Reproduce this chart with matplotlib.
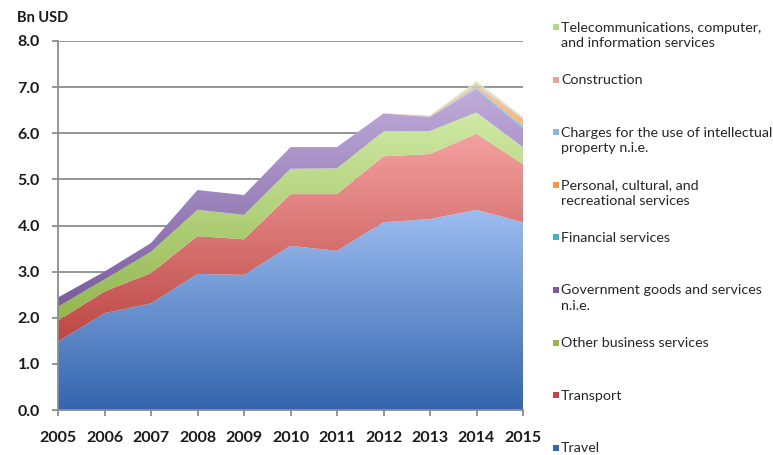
import numpy as np
import matplotlib
matplotlib.use("Agg")
import matplotlib.pyplot as plt
from matplotlib.colors import LinearSegmentedColormap
from matplotlib.patches import Rectangle

plt.rcParams['font.family'] = ['Lato', 'DejaVu Sans']

years = [2005, 2006, 2007, 2008, 2009, 2010, 2011, 2012, 2013, 2014, 2015]

# stacked from the bottom up (Bn USD)
travel = [1.48, 2.10, 2.31, 2.95, 2.93, 3.56, 3.45, 4.07, 4.14, 4.34, 4.07]
transport = [0.46, 0.47, 0.66, 0.82, 0.77, 1.12, 1.23, 1.43, 1.41, 1.65, 1.26]
other_business = [0.30, 0.26, 0.46, 0.57, 0.53, 0.55, 0.56, 0.54, 0.50, 0.46, 0.37]
government = [0.20, 0.17, 0.19, 0.43, 0.43, 0.47, 0.46, 0.39, 0.30, 0.51, 0.41]
financial = [0, 0, 0, 0, 0, 0, 0, 0, 0.01, 0.03, 0.05]
personal = [0, 0, 0, 0, 0, 0, 0, 0, 0.02, 0.04, 0.15]
charges_ip = [0, 0, 0, 0, 0, 0, 0, 0, 0, 0.02, 0.01]
construction = [0, 0, 0, 0, 0, 0, 0, 0, 0, 0.03, 0.02]
telecom = [0, 0, 0, 0, 0, 0, 0, 0, 0, 0.05, 0.01]

series = [
    ("Travel", travel, "#3465ae", "#9dbdf0"),
    ("Transport", transport, "#bc4744", "#f4a1a0"),
    ("Other business services", other_business, "#93b64f", "#cfeaa4"),
    ("Government goods and services\nn.i.e.", government, "#7a5c9e", "#c0acdb"),
    ("Financial services", financial, "#4bacc6", "#8fd3e6"),
    ("Personal, cultural, and\nrecreational services", personal, "#f79646", "#fbbf8c"),
    ("Charges for the use of intellectual\nproperty n.i.e.", charges_ip, "#8db3e2", "#b8d0f0"),
    ("Construction", construction, "#e6a3a2", "#f2c6c5"),
    ("Telecommunications, computer,\nand information services", telecom, "#b5d68a", "#d8ecbc"),
]

fig = plt.figure(figsize=(7.73, 4.55), dpi=100)
ax = fig.add_axes([58 / 773, 45 / 455, 465 / 773, 369 / 455])

x = np.array(years, dtype=float)
base = np.zeros(len(years))
grad = np.linspace(0, 1, 256).reshape(-1, 1)
for name, vals, c_bot, c_top in series:
    top = base + np.array(vals)
    poly = ax.fill_between(x, base, top, facecolor='none', edgecolor='none')
    lo, hi = base.min(), max(top.max(), base.min() + 0.05)
    cmap = LinearSegmentedColormap.from_list(name, [c_bot, c_top])
    im = ax.imshow(grad, cmap=cmap, extent=[x[0], x[-1], lo, hi], origin='lower',
                   aspect='auto', zorder=2, interpolation='bilinear')
    im.set_clip_path(poly.get_paths()[0], transform=ax.transData)
    base = top

ax.set_xlim(2005, 2015)
ax.set_ylim(0, 8)
ax.set_yticks(np.arange(0, 9, 1))
ax.set_yticklabels(["%.1f" % v for v in np.arange(0, 9, 1)])
ax.set_xticks(years)
ax.yaxis.grid(True, color="#8c8c8c", linewidth=1.3, zorder=0)
ax.set_axisbelow(True)
for s in ["top", "right"]:
    ax.spines[s].set_visible(False)
for s in ["left", "bottom"]:
    ax.spines[s].set_color("#8c8c8c")
    ax.spines[s].set_linewidth(1.3)
    ax.spines[s].set_zorder(3)
ax.tick_params(axis="both", colors="#8c8c8c", width=1.3, length=4, labelcolor="#1a1a1a")
ax.tick_params(axis="x", pad=11)
ax.tick_params(axis="y", pad=9)
for lab in ax.get_xticklabels() + ax.get_yticklabels():
    lab.set_fontweight("bold")
    lab.set_fontsize(11.5)

fig.text(17 / 773, 1 - 18 / 455, "Bn USD", fontsize=10.5, fontweight="bold",
         color="#1a1a1a", va="center", ha="left")

# legend, drawn top to bottom in reverse stacking order
legend_items = series[::-1]
for i, (name, vals, c_bot, c_top) in enumerate(legend_items):
    yc = 28 + i * 52.6
    fig.patches.append(Rectangle((553 / 773, 1 - (yc + 2) / 455), 6 / 773, 6 / 455,
                                 transform=fig.transFigure, facecolor=c_bot,
                                 edgecolor="none"))
    fig.text(561 / 773, 1 - (yc - 6.5) / 455, name, fontsize=10.3, color="#262626",
             va="top", ha="left", linespacing=1.38)

fig.savefig("out.png", dpi=100)
